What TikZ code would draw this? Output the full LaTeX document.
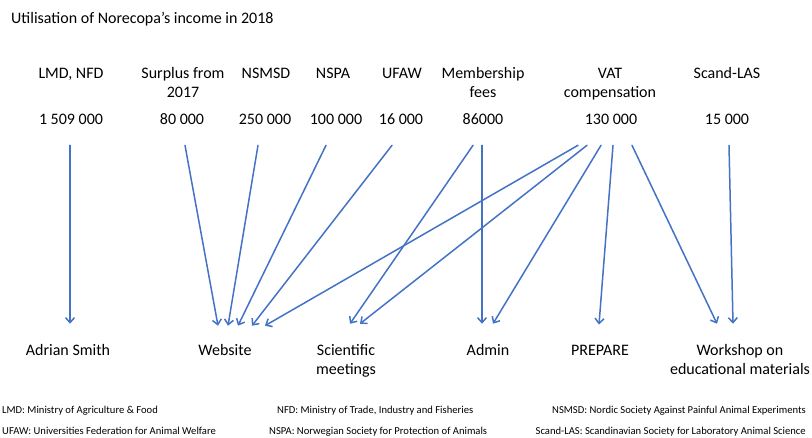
\documentclass[tikz,border=0pt]{standalone}
\usepackage{fontspec}
\setmainfont{Carlito}
\usetikzlibrary{arrows.meta,calc}
\definecolor{arrowblue}{HTML}{4472C4}

\begin{document}
\begin{tikzpicture}[line cap=round,line join=round,>={Straight Barb[length=5pt,width=9pt]},x=1pt,y=-1pt,
  txt/.style={font=\fontsize{16}{19.5}\selectfont,align=center,anchor=base,inner sep=0pt},
  note/.style={font=\fontsize{10.6}{12}\selectfont,inner sep=0pt},
  flow/.style={->,draw=arrowblue,line width=1.5pt}]

\useasboundingbox (0,0) rectangle (812,437);

\node[txt,anchor=base west] (title) at (11,23) {Utilisation of Norecopa’s income in 2018};

\node[txt] (lmd) at (71,78) {LMD, NFD};
\node[txt] (surplus) at (183,97.5) {Surplus from\\2017};
\node[txt] (nsmsd) at (266,78) {NSMSD};
\node[txt] (nspa) at (333,78) {NSPA};
\node[txt] (ufaw) at (402,78) {UFAW};
\node[txt] (member) at (483,97.5) {Membership\\fees};
\node[txt] (vat) at (610,97.5) {VAT\\compensation};
\node[txt] (scand) at (727,78) {Scand-LAS};

\node[txt] (v1) at (71,124) {1 509 000};
\node[txt] (v2) at (182,124) {80 000};
\node[txt] (v3) at (265,124) {250 000};
\node[txt] (v4) at (336,124) {100 000};
\node[txt] (v5) at (401,124) {16 000};
\node[txt] (v6) at (483,124) {86000};
\node[txt] (v7) at (611,124) {130 000};
\node[txt] (v8) at (727,124) {15 000};

\node[txt] (adrian) at (68,355) {Adrian Smith};
\node[txt] (web) at (225,355) {Website};
\node[txt] (sci) at (346,374.5) {Scientific\\meetings};
\node[txt] (admin) at (488,355) {Admin};
\node[txt] (prep) at (600,355) {PREPARE};
\node[txt] (work) at (740,374.5) {Workshop on\\educational materials};

\draw[flow] ($(v1.south)+(-1,21)$) -- ($(adrian.north)+(2,-20)$);
\draw[flow] ($(v2.south)+(3,21)$) -- ($(web.north)+(-7,-18)$);
\draw[flow] ($(v3.south)+(-7,21)$) -- ($(web.north)+(3,-18)$);
\draw[flow] ($(v4.south)+(-10,21)$) -- ($(web.north)+(13,-18)$);
\draw[flow] ($(v5.south)+(-9,21)$) -- ($(web.north)+(27,-18)$);
\draw[flow] ($(v7.south)+(-33,21)$) -- ($(web.north)+(40,-18)$);
\draw[flow] ($(v6.south)+(-10,21)$) -- ($(sci.north)+(4,-20)$);
\draw[flow] ($(v7.south)+(-24,21)$) -- ($(sci.north)+(14,-20)$);
\draw[flow] ($(v6.south)+(-1,21)$) -- ($(admin.north)+(-6,-20)$);
\draw[flow] ($(v7.south)+(-10,21)$) -- ($(admin.north)+(5,-20)$);
\draw[flow] ($(v7.south)+(2,21)$) -- ($(prep.north)+(-1,-20)$);
\draw[flow] ($(v7.south)+(21,21)$) -- ($(work.north)+(-23,-20)$);
\draw[flow] ($(v8.south)+(2,21)$) -- ($(work.north)+(-7,-20)$);

\node[note,anchor=base west] (n1) at (2,413) {LMD: Ministry of Agriculture \& Food};
\node[note,anchor=base west] (n2) at (2,434) {UFAW: Universities Federation for Animal Welfare};
\node[note,anchor=base west] (n3) at (277,413) {NFD: Ministry of Trade, Industry and Fisheries};
\node[note,anchor=base west] (n4) at (269,434) {NSPA: Norwegian Society for Protection of Animals};
\node[note,anchor=base east] (n5) at (806,413) {NSMSD: Nordic Society Against Painful Animal Experiments};
\node[note,anchor=base east] (n6) at (806,434) {Scand-LAS: Scandinavian Society for Laboratory Animal Science};
\end{tikzpicture}
\end{document}
